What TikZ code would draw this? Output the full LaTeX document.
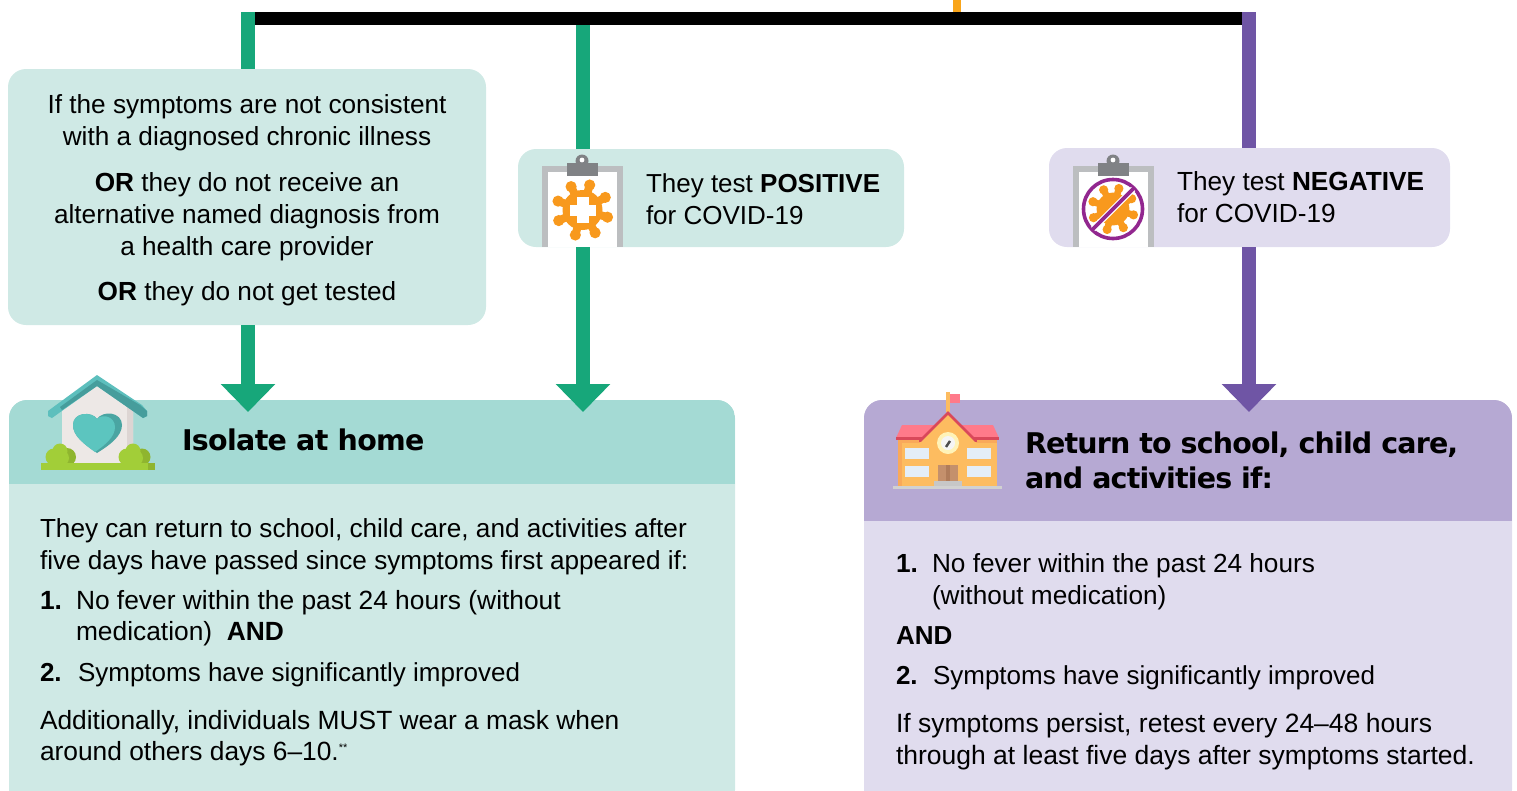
\documentclass[tikz,border=0pt]{standalone}
\usepackage{fontspec}
\setmainfont{Liberation Sans}
\newfontfamily\headfont[LetterSpace=-2.4]{DejaVu Sans}
\newfontfamily\headfontb[LetterSpace=-3.0]{DejaVu Sans}
\usetikzlibrary{arrows.meta}
\definecolor{tealL}{HTML}{CFE9E5}
\definecolor{tealH}{HTML}{A4DAD4}
\definecolor{greenC}{HTML}{17A77A}
\definecolor{purpC}{HTML}{6F55A5}
\definecolor{purpL}{HTML}{E0DCEE}
\definecolor{purpH}{HTML}{B6A9D3}
\definecolor{orangeC}{HTML}{F9A51A}
\definecolor{virusC}{HTML}{F8991D}
\definecolor{frameC}{HTML}{BCBEC0}
\definecolor{clipC}{HTML}{808285}
\definecolor{banC}{HTML}{92278F}
\definecolor{roofL}{HTML}{5DBFBD}
\definecolor{roofD}{HTML}{469D9C}
\definecolor{wallC}{HTML}{EDE8E6}
\definecolor{wallD}{HTML}{DDD5D3}
\definecolor{heartC}{HTML}{5CC5BF}
\definecolor{heartD}{HTML}{4AA5A2}
\definecolor{bush}{HTML}{A2CE38}
\definecolor{bushD}{HTML}{8FB52F}
\definecolor{bldC}{HTML}{FDBC60}
\definecolor{bldD}{HTML}{F9A95A}
\definecolor{sroof}{HTML}{FF7A8A}
\definecolor{sroofD}{HTML}{D9485A}
\definecolor{winC}{HTML}{E4EEF8}
\definecolor{doorC}{HTML}{C4906C}
\definecolor{doorD}{HTML}{B07C5A}
\definecolor{clockC}{HTML}{FFF3B8}
\tikzset{
  panel/.style={rounded corners=18pt,inner sep=0pt,outer sep=0pt},
  txt/.style={inner sep=0pt,outer sep=0pt,font=\fontsize{26}{32}\selectfont,align=left,text=black},
  ctxt/.style={txt,align=center,font=\fontsize{26.2}{32}\selectfont},
  head/.style={inner sep=0pt,outer sep=0pt,font=\headfont\bfseries\fontsize{28.5}{35}\selectfont,align=left,text=black},
  conn/.style={line width=14pt},
  connhead/.style={line width=14pt,-{Triangle[length=28pt,width=53pt]}},
}
\newcommand{\clipboard}[1]{%
  \begin{scope}[shift={(#1,0)}]
    \fill[white] (542,166) rectangle (623,247);
    \fill[frameC] (542,166) rectangle (623,172);
    \fill[frameC] (542,166) rectangle (548,247);
    \fill[frameC] (617,166) rectangle (623,247);
    \fill[clipC] (567,163) rectangle (598,176);
    \fill[clipC] (582,161) circle (6.5);
    \fill[white] (582,160) circle (2.4);
  \end{scope}}
\newcommand{\virus}[3]{%
  \begin{scope}[shift={(#1,#2)},scale=#3]
    \foreach \a in {-116,-74,-29,16,61,106,156,200}{
      \draw[virusC,line width=#3*8pt] (0,0) -- (\a:25);
      \fill[virusC] (\a:26) circle (5.6);
    }
    \fill[virusC] (0,0) circle (20);
  \end{scope}}
\begin{document}
\begin{tikzpicture}[x=1pt,y=-1pt]
\useasboundingbox (0,0) rectangle (1517,790);
\clip (0,0) rectangle (1517,790);
% junctions and tips
\coordinate (j1) at (248,12);
\coordinate (j3) at (1249,12);
\coordinate (j2) at (583,12);
\coordinate (top) at (957,0);
\coordinate (t1) at (248,412);
\coordinate (t2) at (583,412);
\coordinate (t3) at (1249,412);
% panels
\node[panel,fill=tealL,minimum width=478pt,minimum height=256pt] (chronic) at (247,197) {};
\node[panel,fill=tealL,minimum width=386pt,minimum height=98pt] (pos) at (711,198) {};
\node[panel,fill=purpL,minimum width=401pt,minimum height=99pt] (neg) at (1249.5,197.5) {};
\node[panel,fill=tealL,minimum width=726pt,minimum height=408pt] (iso) at (372,604) {};
\node[panel,fill=purpL,minimum width=648pt,minimum height=408pt] (ret) at (1188,604) {};
\begin{scope}
  \clip[rounded corners=18pt] (9,400) rectangle (735,808);
  \fill[tealH] (9,400) rectangle (735,484);
\end{scope}
\begin{scope}
  \clip[rounded corners=18pt] (864,400) rectangle (1512,808);
  \fill[purpH] (864,400) rectangle (1512,521);
\end{scope}
% connectors
\node[fill=black,inner sep=0pt,outer sep=0pt,minimum width=988pt,minimum height=13pt] (bar) at (749,18.5) {};
\draw[orangeC,line width=8pt] (top) -- (top |- bar.north);
\draw[conn,greenC] (j1) -- (chronic.north -| j1);
\draw[connhead,greenC] (chronic.south -| t1) -- (t1);
\draw[conn,greenC] (bar.south -| j2) -- (pos.north -| j2);
\draw[connhead,greenC] (pos.south -| t2) -- (t2);
\draw[conn,purpC] (j3) -- (neg.north -| j3);
\draw[connhead,purpC] (neg.south -| t3) -- (t3);
% left panel text
\node[ctxt,anchor=north] (c1) at (247,95) {If the symptoms are not consistent\\with a diagnosed chronic illness};
\node[ctxt,anchor=north] (c2) at (247,173) {\textbf{OR} they do not receive an\\alternative named diagnosis from\\a health care provider};
\node[ctxt,anchor=north] (c3) at (247,282) {\textbf{OR} they do not get tested};
% positive / negative
\clipboard{0}
\virus{582.5}{210}{1}
\fill[white] (576.5,197) rectangle (588.5,223);
\fill[white] (569.5,204.5) rectangle (595.5,215.5);
\node[txt,anchor=north west,font=\fontsize{26}{31.5}\selectfont] (p1) at (646,174) {They test \textbf{POSITIVE}\\for COVID-19};
\clipboard{531}
\virus{1113}{209}{0.82}
\draw[banC,line width=3.6pt] (1113,209) circle (29.5);
\draw[white,line width=6pt] (1133,189) -- (1093,229);
\draw[banC,line width=3.6pt] (1134,188) -- (1092,230);
\node[txt,anchor=north west,font=\fontsize{26.2}{31.5}\selectfont] (n1) at (1177,172) {They test \textbf{NEGATIVE}\\for COVID-19};
% isolate heading and house
\node[head,anchor=base west] (h1) at (182,450) {Isolate at home};
\fill[wallC] (97,381) -- (133,408) -- (133,464) -- (62,464) -- (62,408) -- cycle;
\fill[wallD] (127,403) -- (133,408) -- (133,464) -- (127,464) -- cycle;
\fill[roofL] (48,411) -- (97,375) -- (142,405) -- (147,411) -- (147,416) -- (143,418) -- (97,386) -- (52,418) -- (48,416) -- cycle;
\fill[roofD] (97,380) -- (140,405) -- (147,411) -- (147,416) -- (143,418) -- (97,386) -- (62,410) -- (60,407) -- cycle;
\fill[heartD] (97,453) .. controls (84,444) and (73,436) .. (73,425) .. controls (73,412) and (92,411) .. (97,419) .. controls (103,410) and (122,412) .. (122,425) .. controls (122,436) and (110,445) .. (97,453) -- cycle;
\fill[heartC] (95,452) .. controls (84,444) and (73,436) .. (73,425) .. controls (73,412) and (92,411) .. (97,419) .. controls (103,413) and (115,417) .. (115,427) .. controls (115,437) and (105,445) .. (95,452) -- cycle;
\fill[bush] (54,457) circle (8.5);
\fill[bushD] (67,457) circle (9);
\fill[bush] (60,451) circle (7.5);
\fill[bush] (61,458) circle (8);
\fill[bush] (127,457) circle (8.5);
\fill[bushD] (142,457) circle (8.5);
\fill[bush] (133,451) circle (7.5);
\fill[bush] (135,458) circle (8);
\fill[bush] (41,463) rectangle (155,470);
\fill[bushD] (148,463) rectangle (155,470);
% isolate text
\node[txt,anchor=north west,font=\fontsize{26.15}{32}\selectfont] (i1) at (40,519) {They can return to school, child care, and activities after\\five days have passed since symptoms first appeared if:};
\node[txt,anchor=north west,font=\fontsize{26.35}{31.5}\selectfont] (i2) at (40,590) {\makebox[36pt][l]{\textbf{1.}}No fever within the past 24 hours (without\\\hspace*{36pt}medication)\ \ \textbf{AND}};
\node[txt,anchor=north west] (i3) at (40,663) {\makebox[38pt][l]{\textbf{2.}}Symptoms have significantly improved};
\node[txt,anchor=north west,font=\fontsize{26.35}{31.5}\selectfont] (i4) at (40,710) {Additionally, individuals MUST wear a mask when\\around others days 6–10.\raisebox{9pt}{\fontsize{11}{11}\selectfont **}};
% return heading and school
\node[head,anchor=north west,font=\headfontb\bfseries\fontsize{28.5}{35}\selectfont] (h2) at (1025,432) {Return to school, child care,\\and activities if:};
\fill[bldC] (946,392) rectangle (949.5,412);
\fill[sroof] (950,394) rectangle (960,403);
\fill[sroof] (902,425) -- (993,425) -- (999,438) -- (896,438) -- cycle;
\fill[sroofD] (896,437) rectangle (999,440);
\fill[bldC] (898,440) rectangle (997,486);
\fill[bldD] (898,440) rectangle (902,486);
\fill[bldD] (898,440) rectangle (997,443);
\fill[bldC] (948,412) -- (976,441) -- (976,444) -- (920,444) -- (920,441) -- cycle;
\draw[sroofD,line width=2.6pt,line cap=round] (920,441) -- (948,413) -- (976,441);
\fill[clockC] (948,443) circle (11);
\fill[white!96!black] (948,443) circle (7);
\draw[black!70,line width=2.4pt] (946,447) -- (950,441);
\foreach \xx in {905,917,967,979}{
  \foreach \yy in {448,466}{
    \fill[winC] (\xx,\yy) rectangle ++(11.5,10.5);
  }
}
\fill[doorC] (938,465) rectangle (958,481);
\fill[doorD] (946,465) rectangle (950,481);
\fill[black!22] (934,481) rectangle (962,486);
\fill[black!18] (893,486) rectangle (1002,489);
% return text
\node[txt,anchor=north west,font=\fontsize{26.2}{32}\selectfont] (r1) at (896,554) {\makebox[36pt][l]{\textbf{1.}}No fever within the past 24 hours\\\hspace*{36pt}(without medication)};
\node[txt,anchor=north west] (r2) at (896,627) {\textbf{AND}};
\node[txt,anchor=north west] (r3) at (896,666) {\makebox[37pt][l]{\textbf{2.}}Symptoms have significantly improved};
\node[txt,anchor=north west,font=\fontsize{26.5}{32}\selectfont] (r4) at (896,713) {If symptoms persist, retest every 24–48 hours\\through at least five days after symptoms started.};
\end{tikzpicture}
\end{document}
